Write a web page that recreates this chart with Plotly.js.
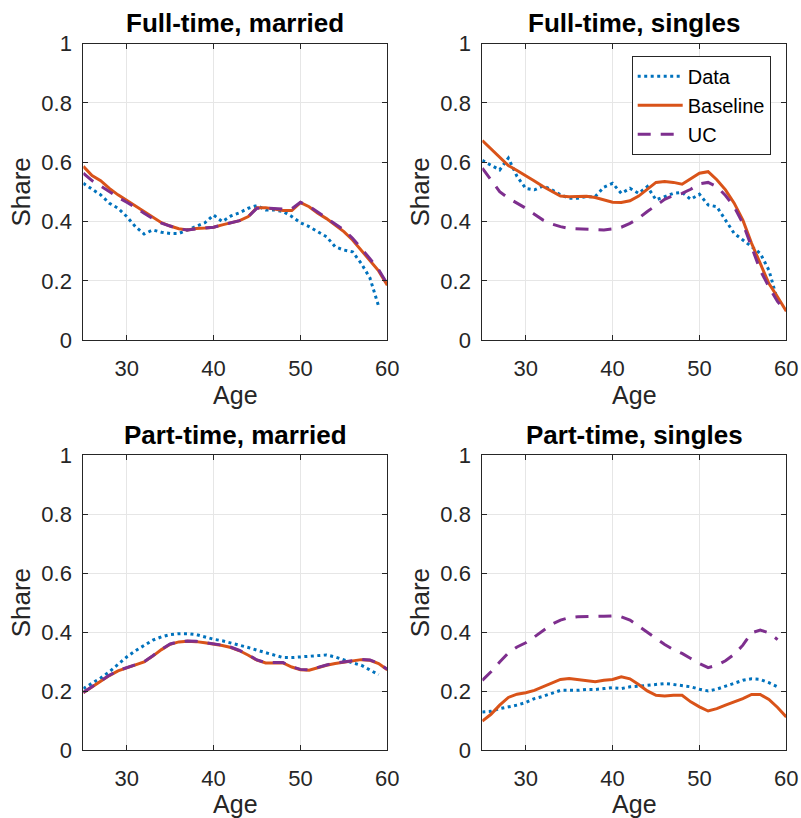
<!DOCTYPE html>
<html>
<head>
<meta charset="utf-8">
<script src="https://cdn.plot.ly/plotly-3.0.1.min.js"></script>
<style>html,body{margin:0;padding:0;background:#fff;}#chart{width:801px;height:818px;}</style>
</head>
<body>
<div id="chart"></div>
<script>
// Ages
var ages = [25,26,27,28,29,30,31,32,33,34,35,36,37,38,39,40,41,42,43,44,45,46,47,48,49,50,51,52,53,54,55,56,57,58,59,60];
var agesData = [25,26,27,28,29,30,31,32,33,34,35,36,37,38,39,40,41,42,43,44,45,46,47,48,49,50,51,52,53,54,55,56,57,58,59];

var panelTitles = ["Full-time, married", "Full-time, singles", "Part-time, married", "Part-time, singles"];
var seriesNames = ["Data", "Baseline", "UC"];

// Full-time, married
var ftMarriedData = [0.529,0.509,0.49,0.462,0.445,0.417,0.383,0.358,0.372,0.364,0.36,0.36,0.372,0.383,0.396,0.422,0.4,0.419,0.43,0.445,0.454,0.439,0.439,0.434,0.417,0.396,0.383,0.366,0.349,0.315,0.304,0.298,0.259,0.21,0.115];
var ftMarriedBase = [0.586,0.555,0.538,0.512,0.49,0.471,0.453,0.432,0.413,0.396,0.385,0.376,0.372,0.377,0.378,0.381,0.389,0.396,0.403,0.417,0.447,0.447,0.441,0.437,0.437,0.464,0.45,0.428,0.41,0.389,0.366,0.338,0.304,0.27,0.234,0.186];
var ftMarriedUC   = [0.563,0.538,0.52,0.5,0.482,0.465,0.448,0.428,0.41,0.395,0.385,0.375,0.372,0.375,0.378,0.381,0.389,0.396,0.403,0.417,0.445,0.446,0.443,0.442,0.443,0.465,0.452,0.432,0.415,0.395,0.372,0.344,0.31,0.275,0.238,0.19];

// Full-time, singles
var ftSinglesData = [0.606,0.591,0.574,0.614,0.552,0.512,0.507,0.52,0.507,0.49,0.479,0.479,0.484,0.484,0.516,0.529,0.495,0.512,0.495,0.518,0.473,0.484,0.495,0.498,0.475,0.492,0.456,0.45,0.405,0.36,0.338,0.315,0.293,0.236,0.133];
var ftSinglesBase = [0.673,0.645,0.616,0.589,0.572,0.555,0.537,0.518,0.501,0.486,0.484,0.484,0.485,0.481,0.473,0.465,0.464,0.47,0.486,0.509,0.532,0.535,0.532,0.526,0.546,0.563,0.568,0.541,0.507,0.462,0.405,0.327,0.259,0.191,0.146,0.098];
var ftSinglesUC   = [0.58,0.541,0.501,0.479,0.462,0.445,0.425,0.405,0.392,0.383,0.377,0.376,0.375,0.373,0.372,0.375,0.381,0.394,0.411,0.434,0.456,0.475,0.488,0.495,0.509,0.527,0.532,0.518,0.488,0.45,0.394,0.315,0.236,0.18,0.13,0.098];

// Part-time, married
var ptMarriedData = [0.209,0.226,0.245,0.266,0.292,0.316,0.337,0.356,0.373,0.384,0.392,0.395,0.395,0.392,0.384,0.376,0.371,0.364,0.356,0.348,0.339,0.33,0.322,0.314,0.314,0.316,0.318,0.32,0.323,0.316,0.305,0.296,0.288,0.271,0.256];
var ptMarriedBase = [0.195,0.215,0.234,0.253,0.269,0.279,0.288,0.299,0.319,0.341,0.359,0.367,0.369,0.368,0.364,0.36,0.355,0.348,0.337,0.322,0.305,0.296,0.296,0.296,0.282,0.273,0.271,0.28,0.288,0.294,0.298,0.303,0.307,0.305,0.294,0.273];
var ptMarriedUC   = [0.196,0.216,0.235,0.254,0.27,0.28,0.289,0.3,0.32,0.342,0.36,0.368,0.37,0.369,0.365,0.361,0.356,0.349,0.338,0.323,0.306,0.297,0.297,0.297,0.283,0.274,0.272,0.281,0.289,0.295,0.299,0.304,0.308,0.306,0.295,0.274];

// Part-time, singles
var ptSinglesData = [0.13,0.132,0.141,0.147,0.153,0.162,0.175,0.183,0.194,0.203,0.203,0.203,0.206,0.206,0.209,0.212,0.209,0.215,0.217,0.22,0.224,0.226,0.223,0.22,0.215,0.207,0.201,0.207,0.217,0.228,0.237,0.242,0.24,0.229,0.215];
var ptSinglesBase = [0.099,0.122,0.153,0.179,0.19,0.195,0.203,0.215,0.228,0.24,0.243,0.24,0.235,0.232,0.237,0.24,0.249,0.242,0.223,0.201,0.186,0.184,0.186,0.186,0.164,0.147,0.133,0.141,0.153,0.164,0.175,0.189,0.189,0.172,0.145,0.113];
var ptSinglesUC   = [0.237,0.266,0.299,0.33,0.35,0.364,0.384,0.407,0.427,0.441,0.449,0.452,0.452,0.452,0.454,0.455,0.452,0.441,0.42,0.398,0.379,0.358,0.341,0.328,0.311,0.294,0.28,0.288,0.303,0.325,0.356,0.398,0.407,0.398,0.375];

var xTicks = [30,40,50,60];
var yTicks = [0,0.2,0.4,0.6,0.8,1];

var panels = [
  {data: ftMarriedData, base: ftMarriedBase, uc: ftMarriedUC, dataAges: agesData, ucAges: ages},
  {data: ftSinglesData, base: ftSinglesBase, uc: ftSinglesUC, dataAges: agesData, ucAges: ages},
  {data: ptMarriedData, base: ptMarriedBase, uc: ptMarriedUC, dataAges: agesData, ucAges: ages},
  {data: ptSinglesData, base: ptSinglesBase, uc: ptSinglesUC, dataAges: agesData, ucAges: agesData}
];

var cBlue = '#0072BD', cOrange = '#D95319', cPurple = '#7E2F8E';
var W = 801, H = 818;
var xDom = [[83.3/W, 387.3/W], [482.3/W, 786.3/W]];
var yDom = [[1-340.3/H, 1-43.5/H], [1-750.3/H, 1-455/H]];

var traces = [];
panels.forEach(function(p, i){
  var ax = i === 0 ? '' : String(i+1);
  var show = (i === 1);
  traces.push({x: p.dataAges, y: p.data, type:'scatter', mode:'lines', name: seriesNames[0],
    line:{color:cBlue, width:3, dash:'3px,3.5px'}, xaxis:'x'+ax, yaxis:'y'+ax, showlegend:show, legendrank:1});
  traces.push({x: ages, y: p.base, type:'scatter', mode:'lines', name: seriesNames[1],
    line:{color:cOrange, width:3}, xaxis:'x'+ax, yaxis:'y'+ax, showlegend:show, legendrank:2});
  traces.push({x: p.ucAges, y: p.uc, type:'scatter', mode:'lines', name: seriesNames[2],
    line:{color:cPurple, width:3, dash:'13px,10px'}, xaxis:'x'+ax, yaxis:'y'+ax, showlegend:show, legendrank:3});
});

var fontFam = 'Liberation Sans, Arial, Helvetica, sans-serif';
var layout = {
  width: W, height: H,
  margin: {l:0, r:0, t:0, b:0},
  paper_bgcolor:'#fff', plot_bgcolor:'#fff',
  font: {family: fontFam, color:'#262626', size:22},
  showlegend: true,
  legend: {x: 631.7/W, y: 1-55.7/H, xanchor:'left', yanchor:'top', bgcolor:'#fff',
    bordercolor:'#262626', borderwidth:1, font:{size:20, color:'#000'}, itemwidth:45, tracegroupgap:0},
  annotations: []
};

panels.forEach(function(p, i){
  var col = i % 2, row = Math.floor(i/2);
  var ax = i === 0 ? '' : String(i+1);
  var common = {showline:true, linecolor:'#262626', linewidth:1, mirror:'ticks', ticks:'inside', ticklen:5,
    tickcolor:'#262626', showgrid:true, gridcolor:'#e6e6e6', gridwidth:1, zeroline:false,
    tickfont:{size:22, color:'#262626', family: fontFam}};
  layout['xaxis'+ax] = Object.assign({}, common, {domain: xDom[col], range:[25,60], tickvals: xTicks,
    anchor:'y'+ax, ticklabelstandoff: 8,
    title:{text:'Age', font:{size:25, color:'#262626'}, standoff: 5}});
  layout['yaxis'+ax] = Object.assign({}, common, {domain: yDom[row], range:[0,1], tickvals: yTicks,
    anchor:'x'+ax, ticklabelstandoff: 6,
    title:{text:'Share', font:{size:26, color:'#262626'}, standoff: 3}});
  layout.annotations.push({text:'<b>'+panelTitles[i]+'</b>', xref:'paper', yref:'paper',
    x:(xDom[col][0]+xDom[col][1])/2, y:yDom[row][1], xanchor:'center', yanchor:'bottom', yshift:3,
    showarrow:false, font:{size:26, color:'#000', family: fontFam}});
});

Plotly.newPlot('chart', traces, layout, {displayModeBar:false, staticPlot:true});
</script>
</body>
</html>
